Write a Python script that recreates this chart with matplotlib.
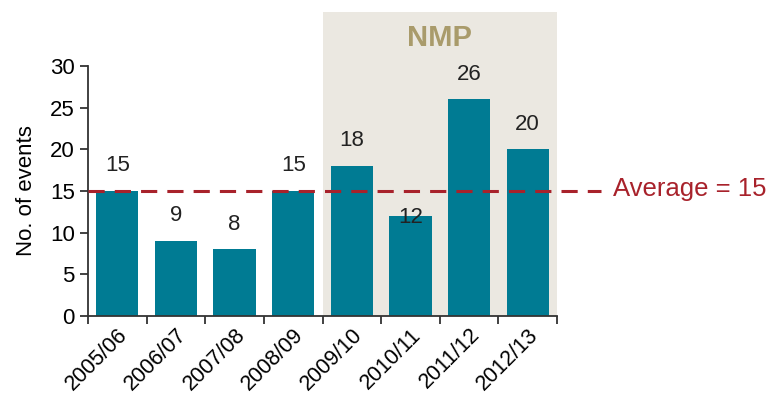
import numpy as np
import matplotlib.pyplot as plt
from matplotlib.patches import Rectangle

plt.rcParams['font.family'] = ['Liberation Sans', 'DejaVu Sans']

years = ["2005/06", "2006/07", "2007/08", "2008/09",
         "2009/10", "2010/11", "2011/12", "2012/13"]
events = [15, 9, 8, 15, 18, 12, 26, 20]
average = 15
nmp_start = 4  # first year of the NMP period

bar_color = "#007b93"
avg_color = "#a8222b"
shade_color = "#ebe8e1"
nmp_color = "#a99b6b"

fig = plt.figure(figsize=(7.79, 3.95), dpi=100)
ax = fig.add_axes([0.113, 0.2, 0.602, 0.633])

x = np.arange(len(years))
ax.set_xlim(-0.5, len(years) - 0.5)
ax.set_ylim(0, 30)

# shaded NMP period, running above the plot area
ax.add_patch(Rectangle((nmp_start - 0.5, 0), len(years) - nmp_start, 36.5,
                       facecolor=shade_color, edgecolor="none",
                       clip_on=False, zorder=0))
ax.text((nmp_start - 0.5 + len(years) - 0.5) / 2, 33.3, "NMP",
        ha="center", va="center", fontsize=21, fontweight="bold",
        color=nmp_color)

ax.bar(x, events, width=0.72, color=bar_color, zorder=2)

for i, v in enumerate(events):
    off = -0.2 if i == 5 else 3
    ax.text(i, v + off, str(v), ha="center", va="center",
            fontsize=16, color="#222222", zorder=4)

ax.plot([-0.5, 8.25], [average, average], linestyle=(0, (5.3, 3.3)),
        color=avg_color, lw=2.2, clip_on=False, zorder=3)
ax.text(8.45, average + 0.2, f"Average = {average}", ha="left", va="center",
        fontsize=18.5, color=avg_color)

ax.set_yticks(range(0, 31, 5))
ax.set_xticks(x)
ax.set_xticklabels(years, rotation=45, ha="right", rotation_mode="anchor",
                   fontsize=15.5)
ax.set_xticks(np.arange(-0.5, len(years)), minor=True)
ax.tick_params(axis="x", which="major", length=0, pad=6)
ax.tick_params(axis="x", which="minor", length=6, width=1.3, color="#333333")
ax.tick_params(axis="y", length=6, width=1.3, color="#333333", labelsize=16)

for s in ["top", "right"]:
    ax.spines[s].set_visible(False)
for s in ["left", "bottom"]:
    ax.spines[s].set_linewidth(1.3)
    ax.spines[s].set_color("#333333")

ax.set_ylabel("No. of events", fontsize=16, labelpad=9)
ax.patch.set_alpha(0)

fig.savefig("out.png", dpi=100)
